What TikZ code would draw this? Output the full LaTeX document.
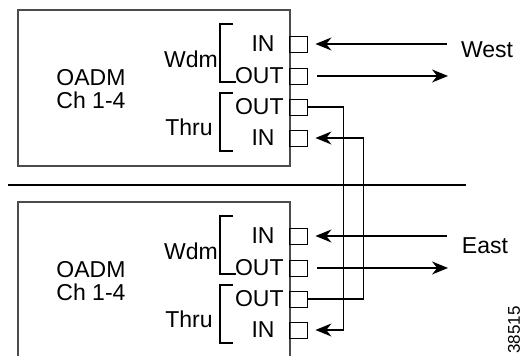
\documentclass[tikz,border=0pt]{standalone}
\usepackage{fontspec}
\setmainfont{Liberation Sans}
\usetikzlibrary{arrows.meta}
\tikzset{
  port/.style={draw, line width=0.45pt, minimum width=9pt, minimum height=8pt, inner sep=0pt},
  txt/.style={font=\fontsize{11.5}{11.5}\selectfont, inner sep=0pt},
  sig/.style={line width=0.6pt, -{Stealth[length=8pt,width=6.5pt]}},
  wire/.style={line width=0.6pt},
}
\begin{document}
\begin{tikzpicture}[x=0.5pt,y=-0.5pt]
\useasboundingbox (0,0) rectangle (521,356);
% the two OADM boxes
\draw[gray!60!black, line width=0.6pt] (18,10) rectangle (290,166);
\draw[gray!60!black, line width=0.6pt] (18,360) |- (290,202) -- (290,360);
\draw[line width=0.8pt] (8,185) -- (466,185);
\foreach \b/\o in {t/0, b/192}{
    \node[txt, align=center] (\b-oadm) at (91,\o+89) {OADM\\Ch 1-4};
    \node[txt] (\b-wdm) at (191,\o+59) {Wdm};
    \node[txt] (\b-thru) at (189,\o+127) {Thru};
    \draw[wire] (233,\o+24) -- (220,\o+24) -- (220,\o+82) -- (236,\o+82);
    \draw[wire] (233,\o+93) -- (220,\o+93) -- (220,\o+151) -- (233,\o+151);
    \node[port] (\b-wi) at (298,\o+44) {};
    \node[port] (\b-wo) at (298,\o+76) {};
    \node[port] (\b-to) at (298,\o+107) {};
    \node[port] (\b-ti) at (298,\o+138) {};
    \node[txt, anchor=east] at (275,\o+44) {IN};
    \node[txt, anchor=east] at (284,\o+76) {OUT};
    \node[txt, anchor=east] at (284,\o+107) {OUT};
    \node[txt, anchor=east] at (275,\o+138) {IN};
}
% line ends
\coordinate (w-in) at (447,44);
\coordinate (w-out) at (448,76);
\coordinate (e-in) at (447,236);
\coordinate (e-out) at (448,268);
\node[txt] (west) at (487,50) {West};
\node[txt] (east) at (485,246) {East};
% signals
\draw[sig, shorten >=4pt] (w-in) -- (t-wi.east);
\draw[sig, shorten <=5pt] (t-wo.east) -- (w-out);
\draw[sig, shorten >=4pt] (e-in) -- (b-wi.east);
\draw[sig, shorten <=5pt] (b-wo.east) -- (e-out);
% thru connections
\draw[sig, shorten >=4pt] (t-to.east) -- ++(36,0) |- (b-ti.east);
\draw[sig, shorten >=4pt] (b-to.east) -- ++(56,0) |- (t-ti.east);
\node[font=\fontsize{8.5}{9}\selectfont, inner sep=0pt, rotate=90, anchor=west] (fig) at (514,354) {38515};
\end{tikzpicture}
\end{document}
